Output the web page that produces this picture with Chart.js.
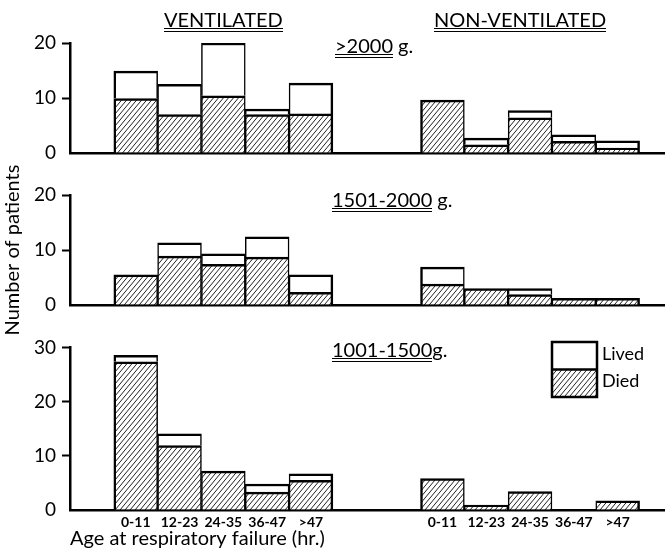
<!DOCTYPE html>
<html>
<head>
<meta charset="utf-8">
<script src="https://cdn.jsdelivr.net/npm/chart.js@4.4.0/dist/chart.umd.min.js"></script>
<style>
  body { margin: 0; background: #fff; }
  #wrap { position: relative; width: 665px; height: 549px; font-family: Lato, sans-serif; color: #000; overflow: hidden; }
  canvas { position: absolute; left: 0; }
  .lbl { position: absolute; white-space: nowrap; font-size: 20px; line-height: 16px; }
  .u2 { display: inline-block; padding-bottom: 1px; border-bottom: 4px double #000; }
</style>
</head>
<body>
<div id="wrap">
  <canvas id="c1" width="665" height="175" style="top:0"></canvas>
  <canvas id="c2" width="665" height="185" style="top:160px"></canvas>
  <canvas id="c3" width="665" height="219" style="top:330px"></canvas>
  <div class="lbl" style="left:164px;top:11px"><span class="u2">VENTILATED</span></div>
  <div class="lbl" style="left:434px;top:11px"><span class="u2">NON-VENTILATED</span></div>
  <div class="lbl" style="left:335px;top:37px"><span class="u2">&gt;2000</span> g.</div>
  <div class="lbl" style="left:332px;top:191px"><span class="u2">1501-2000</span> g.</div>
  <div class="lbl" style="left:332px;top:341px"><span class="u2">1001-1500</span>g.</div>
</div>
<script>
const ageGroups = ['0-11', '12-23', '24-35', '36-47', '>47'];

// >2000 g
const heavyVentDied = [9.9, 7, 10.4, 7, 7.1];
const heavyVentLived = [5, 5.5, 9.6, 1, 5.6];
const heavyNonDied = [9.6, 1.5, 6.4, 2.1, 0.9];
const heavyNonLived = [0, 1.2, 1.3, 1.2, 1.3];

// 1501-2000 g
const midVentDied = [5.5, 8.9, 7.4, 8.7, 2.3];
const midVentLived = [0, 2.4, 1.9, 3.7, 3.2];
const midNonDied = [3.8, 3.0, 1.9, 1.2, 1.2];
const midNonLived = [3.1, 0, 1.1, 0, 0];

// 1001-1500 g
const lightVentDied = [27.4, 11.9, 7.2, 3.3, 5.5];
const lightVentLived = [1.2, 2.2, 0, 1.5, 1.2];
const lightNonDied = [5.8, 0.9, 3.4, 0, 1.7];
const lightNonLived = [0, 0, 0, 0, 0];

const ventPos = ageGroups.map((a, i) => i + 1);
const nonPos = ageGroups.map((a, i) => i + 8);
const FONT = 'Lato, sans-serif';

function hatch() {
    const c = document.createElement('canvas');
    c.width = 5;
    c.height = 6;
    const g = c.getContext('2d');
    g.fillStyle = '#fff';
    g.fillRect(0, 0, 5, 6);
    g.strokeStyle = '#222';
    g.lineWidth = 1;
    for (const dx of [-5, 0, 5]) {
        g.beginPath();
        g.moveTo(dx, 6);
        g.lineTo(dx + 5, 0);
        g.stroke();
    }
    return g.createPattern(c, 'repeat');
}

function points(vent, non) {
    return vent.map((v, i) => ({ x: ventPos[i], y: v }))
        .concat(non.map((v, i) => ({ x: nonPos[i], y: v })));
}

function edges(ctx) {
    return {
        top: 2.5,
        bottom: 0,
        left: ctx.dataIndex % 5 === 0 ? 2.5 : 1.5,
        right: ctx.dataIndex % 5 === 4 ? 2.5 : 1.5
    };
}

const keyPlugin = {
    id: 'key',
    afterDraw(chart) {
        const g = chart.ctx;
        const x = 552, y = 12, w = 45, h = 27.5;
        g.save();
        g.fillStyle = '#fff';
        g.fillRect(x, y, w, h);
        g.fillStyle = hatch();
        g.fillRect(x, y + h, w, h);
        g.strokeStyle = '#000';
        g.lineWidth = 2.5;
        g.strokeRect(x, y, w, h * 2);
        g.beginPath();
        g.moveTo(x, y + h);
        g.lineTo(x + w, y + h);
        g.stroke();
        g.fillStyle = '#000';
        g.font = '18px ' + FONT;
        g.textBaseline = 'alphabetic';
        g.fillText('Lived', 602, 30);
        g.fillText('Died', 602, 57);
        g.restore();
    }
};

function panel(id, died, lived, yMax, padTop, bottomH, showX, showY, plugins) {
    return new Chart(document.getElementById(id), {
        type: 'bar',
        data: {
            datasets: [{
                label: 'Died',
                data: died,
                backgroundColor: hatch(),
                borderColor: '#000',
                borderWidth: edges,
                barPercentage: 1,
                categoryPercentage: 1
            }, {
                label: 'Lived',
                data: lived,
                backgroundColor: '#fff',
                borderColor: '#000',
                borderWidth: edges,
                barPercentage: 1,
                categoryPercentage: 1
            }]
        },
        options: {
            responsive: false,
            animation: false,
            devicePixelRatio: 1,
            layout: { padding: { top: padTop, left: 0, right: 0, bottom: 0 } },
            plugins: { legend: { display: false }, tooltip: { enabled: false } },
            scales: {
                x: {
                    type: 'linear',
                    min: -0.5,
                    max: 13.08,
                    stacked: true,
                    offset: false,
                    grid: { display: false, drawTicks: false },
                    border: { color: '#000', width: 2.5 },
                    afterBuildTicks: ax => {
                        ax.ticks = ventPos.concat(nonPos).map(v => ({ value: v }));
                    },
                    ticks: {
                        display: showX,
                        autoSkip: false,
                        maxRotation: 0,
                        padding: 4,
                        color: '#000',
                        font: { family: FONT, size: 14, weight: 'bold' },
                        callback: v => ageGroups[v >= 8 ? v - 8 : v - 1]
                    },
                    title: {
                        display: showX,
                        text: 'Age at respiratory failure (hr.)',
                        align: 'start',
                        color: '#000',
                        font: { family: FONT, size: 20, lineHeight: 1 },
                        padding: { top: 0, bottom: 0 }
                    },
                    afterFit: ax => { ax.height = bottomH; }
                },
                y: {
                    min: 0,
                    max: yMax,
                    stacked: true,
                    ticks: {
                        stepSize: 10,
                        padding: 6,
                        color: '#000',
                        font: { family: FONT, size: 19 }
                    },
                    grid: {
                        drawOnChartArea: false,
                        tickLength: 8,
                        tickWidth: 2,
                        tickColor: c => c.tick && c.tick.value === 0 ? 'rgba(0,0,0,0)' : '#000'
                    },
                    border: { color: '#000', width: 2.5 },
                    title: {
                        display: showY,
                        text: 'Number of patients',
                        color: '#000',
                        font: { family: FONT, size: 20 },
                        padding: { top: 1, bottom: 0 }
                    },
                    afterFit: ax => { ax.width = 70; }
                }
            }
        },
        plugins: plugins || []
    });
}

panel('c1', points(heavyVentDied, heavyNonDied), points(heavyVentLived, heavyNonLived), 20, 43, 22, false, false);
panel('c2', points(midVentDied, midNonDied), points(midVentLived, midNonLived), 20, 35, 40, false, true);
panel('c3', points(lightVentDied, lightNonDied), points(lightVentLived, lightNonLived), 30, 17.7, 39, true, false, [keyPlugin]);
</script>
</body>
</html>
